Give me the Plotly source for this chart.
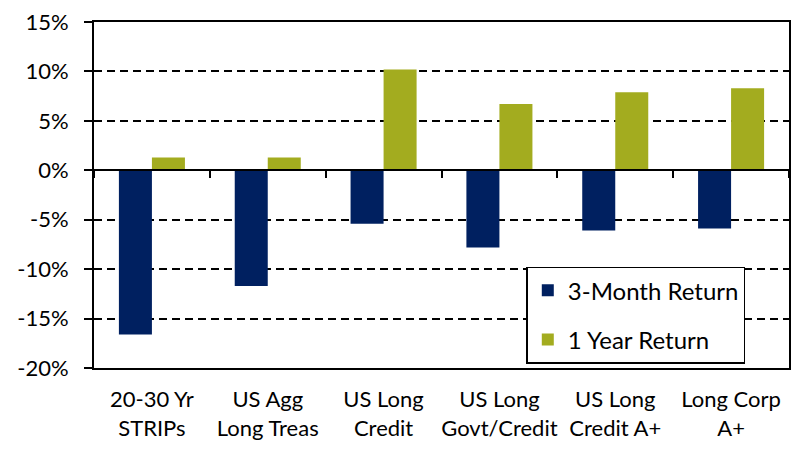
import plotly.graph_objects as go

categories = ["20-30 Yr<br>STRIPs", "US Agg<br>Long Treas", "US Long<br>Credit",
              "US Long<br>Govt/Credit", "US Long<br>Credit A+", "Long Corp<br>A+"]
three_month = [-16.6, -11.7, -5.4, -7.8, -6.1, -5.9]
one_year = [1.3, 1.3, 10.2, 6.7, 7.9, 8.3]
y_ticks = [-20, -15, -10, -5, 0, 5, 10, 15]
y_tick_text = ["-20%", "-15%", "-10%", "-5%", "0%", "5%", "10%", "15%"]

FONT = "Lato, 'Open Sans', sans-serif"
NAVY = "#002060"
OLIVE = "#A3AC1F"

fig = go.Figure()
fig.add_trace(go.Bar(x=categories, y=three_month, name="3-Month Return",
                     marker=dict(color=NAVY, line=dict(width=0)),
                     legendgroup="a"))
fig.add_trace(go.Bar(x=categories, y=one_year, name="1 Year Return",
                     marker=dict(color=OLIVE, line=dict(width=0)),
                     legendgroup="b"))
# helper trace so the zero-crossing category axis is rendered
fig.add_trace(go.Scatter(x=categories, y=[0] * len(categories), xaxis="x2",
                         mode="markers", marker=dict(opacity=0),
                         showlegend=False, hoverinfo="skip"))

ymin, ymax = y_ticks[0], y_ticks[-1]
zero_pos = (0 - ymin) / (ymax - ymin)

fig.update_layout(
    width=799, height=461,
    margin=dict(l=94, r=8, t=17, b=93),
    paper_bgcolor="white", plot_bgcolor="white",
    font=dict(family=FONT, size=22, color="black"),
    barmode="group", bargap=0.43, bargroupgap=0,
    showlegend=True,
    legend=dict(x=0.622, y=0.293, xanchor="left", yanchor="top",
                bgcolor="white", bordercolor="black", borderwidth=1.5,
                font=dict(family=FONT, size=24),
                traceorder="grouped", tracegroupgap=15,
                itemwidth=30),
    xaxis=dict(type="category", showline=True, linecolor="black", linewidth=2,
               mirror=True, ticks="", showgrid=False,
               tickfont=dict(family=FONT, size=22),
               ticklabelstandoff=11),
    xaxis2=dict(type="category", overlaying="x", anchor="free", position=zero_pos,
                matches="x", showline=True, linecolor="black", linewidth=2,
                ticks="outside", tickson="boundaries", ticklen=7, tickwidth=2,
                tickcolor="black", showticklabels=False, showgrid=False),
    yaxis=dict(range=[ymin, ymax], tickvals=y_ticks, ticktext=y_tick_text,
               showline=True, linecolor="black", linewidth=2, mirror=True,
               ticks="outside", ticklen=8, tickwidth=2, tickcolor="black",
               showgrid=True, gridcolor="black", gridwidth=1.5, griddash="8px,5px",
               zeroline=False, ticklabelstandoff=11,
               tickfont=dict(family=FONT, size=22)),
)

fig.write_html("out.html")
